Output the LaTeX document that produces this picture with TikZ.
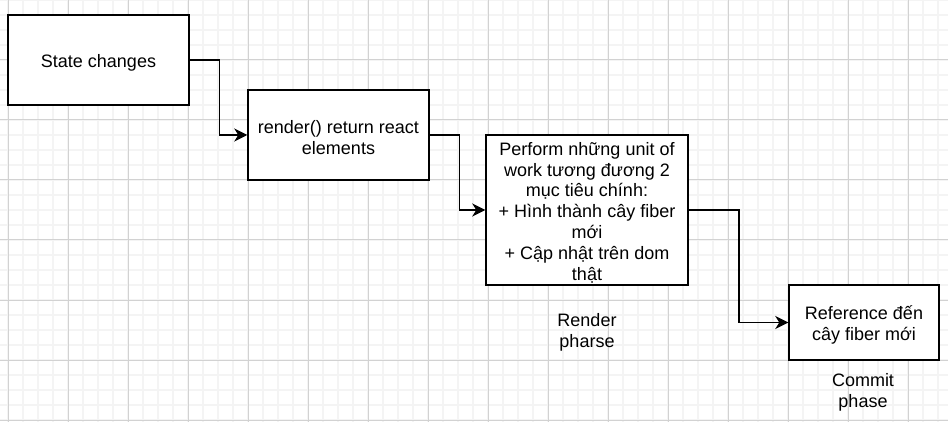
\documentclass[tikz,border=0pt]{standalone}
\usepackage{fontspec}
\setmainfont{Liberation Sans}
\usetikzlibrary{arrows.meta}
\tikzset{
  box/.style={draw=black, line width=1.5pt, fill=white, inner sep=0pt},
  lbl/.style={align=center, inner sep=0pt, font=\fontsize{18}{20.8}\selectfont},
  conn/.style={line width=1.5pt, -{Stealth[length=13pt,width=13pt,inset=4pt]}},
  minorgrid/.style={draw=gray!9, line width=1.5pt},
  majorgrid/.style={draw=gray!35, line width=1pt}
}
\begin{document}
\begin{tikzpicture}[x=1pt,y=-1pt]
\useasboundingbox (0,0) rectangle (948,422);
\fill[white] (0,0) rectangle (948,422);
% grid
\foreach \x in {8,23,...,948} \draw[minorgrid] (\x,0) -- (\x,422);
\foreach \y in {0,15,...,422} \draw[minorgrid] (0,\y) -- (948,\y);
\foreach \x in {8,68,...,948} \draw[majorgrid] (\x,0) -- (\x,422);
\foreach \y in {0,60,...,422} \draw[majorgrid] (0,\y) -- (948,\y);
% boxes
\node[box, minimum width=181pt, minimum height=90pt,
  label={[lbl, yshift=-2.5pt]center:{State changes}}] (b1) at (98.5,60) {};
\node[box, minimum width=181pt, minimum height=90pt,
  label={[lbl, yshift=-2.5pt]center:{render() return react\\elements}}] (b2) at (338.5,135) {};
\node[box, minimum width=202pt, minimum height=150pt,
  label={[lbl, yshift=-2.5pt]center:{Perform những unit of\\work tương đương 2\\mục tiêu chính:\\+ Hình thành cây fiber\\mới\\+ Cập nhật trên dom\\thật}}] (b3) at (587,210) {};
\node[box, minimum width=150pt, minimum height=75pt,
  label={[lbl, yshift=-2.5pt]center:{Reference đến\\cây fiber mới}}] (b4) at (864,322.5) {};
% labels
\node[lbl] (l1) at (587,332.5) {Render\\pharse};
\node[lbl] (l2) at (863,392) {Commit\\phase};
% connectors
\draw[conn] (b1.east) -- ++(29.5,0) |- (b2.west);
\draw[conn] (b2.east) -- ++(29.5,0) |- (b3.west);
\draw[conn] (b3.east) -- ++(50,0) |- (b4.west);
\end{tikzpicture}
\end{document}
